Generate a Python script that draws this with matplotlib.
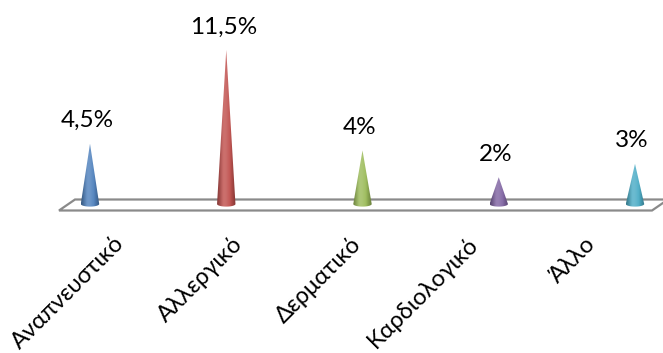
import numpy as np
import matplotlib
matplotlib.use("Agg")
import matplotlib.pyplot as plt
from matplotlib.path import Path
from matplotlib.patches import PathPatch, Polygon
from matplotlib.colors import to_rgb

# Data
categories = ["Αναπνευστικό", "Αλλεργικό", "Δερματικό", "Καρδιολογικό", "Άλλο"]
values = [4.5, 11.5, 4.0, 2.0, 3.0]
value_labels = ["4,5%", "11,5%", "4%", "2%", "3%"]
colors = ["#4F81BD", "#C0504D", "#9BBB59", "#8064A2", "#4BACC6"]

plt.rcParams["font.family"] = ["Lato", "Open Sans", "DejaVu Sans"]

W, H, DPI = 663, 353, 100
fig = plt.figure(figsize=(W / DPI, H / DPI), dpi=DPI)

# pixel layout of the plotting scale
X0_PX, STEP_PX = 90.0, 136.25      # first category centre, spacing
Y0_PX, UNIT_PX = 204.0, 13.39      # baseline (from top), pixels per percent

ax = fig.add_axes([0, 0, 1, 1])
ax.set_xlim(-X0_PX / STEP_PX, (W - X0_PX) / STEP_PX)
ax.set_ylim(-(H - Y0_PX) / UNIT_PX, Y0_PX / UNIT_PX)
ax.axis("off")

def px_to_data(px, py):
    return ((px - X0_PX) / STEP_PX, (Y0_PX - py) / UNIT_PX)

# floor of the 3-D plot area
floor = [px_to_data(59, 210.5), px_to_data(75, 199.5),
         px_to_data(668, 199.5), px_to_data(652, 210.5)]
ax.add_patch(Polygon(floor, closed=True, facecolor="white",
                     edgecolor="#8a8a8a", lw=1.6, zorder=1))

half_w = 9.2 / STEP_PX
ell_h = 2.6 / UNIT_PX

def cone_path(xc, h):
    t = np.linspace(0, np.pi, 40)
    arc_x = xc + half_w * np.cos(t)
    arc_y = -ell_h * np.sin(t)
    verts = [(xc, h), (xc + half_w, 0)] + list(zip(arc_x, arc_y)) + [(xc - half_w, 0), (xc, h)]
    codes = [Path.MOVETO] + [Path.LINETO] * (len(verts) - 2) + [Path.CLOSEPOLY]
    return Path(verts, codes)

def shade(color, n=64):
    base = np.array(to_rgb(color))
    t = np.linspace(-1, 1, n)
    # light band left of centre, darker rims
    light = np.exp(-((t + 0.2) / 0.5) ** 2)
    dark = np.clip(np.abs(t) - 0.35, 0, None) * 0.5
    rgb = base[None, :] * (1 - dark[:, None])
    rgb = rgb + (1 - rgb) * (0.18 * light[:, None])
    return np.clip(rgb, 0, 1)[None, :, :]

for i, (v, c) in enumerate(zip(values, colors)):
    path = cone_path(i, v)
    patch = PathPatch(path, facecolor="none", edgecolor="none")
    ax.add_patch(patch)
    img = ax.imshow(shade(c), extent=[i - half_w, i + half_w, -ell_h, v],
                    aspect="auto", interpolation="bilinear", zorder=3)
    img.set_clip_path(patch)

for i, (v, lab) in enumerate(zip(values, value_labels)):
    ax.annotate(lab, (i, v), xytext=(-3, 16.5), textcoords="offset pixels",
                ha="center", va="baseline", fontsize=17.5, color="black", zorder=5)

# category labels along the front edge
LAB_X0_PX, LAB_STEP_PX, LAB_Y_PX = 113.0, 118.0, 233.0
for i, cat in enumerate(categories):
    fx = (LAB_X0_PX + LAB_STEP_PX * i) / W
    fy = 1 - LAB_Y_PX / H
    fig.text(fx, fy, cat, rotation=45, rotation_mode="anchor",
             ha="right", va="top", fontsize=17, color="black")

fig.savefig("out.png", dpi=DPI, facecolor="white")
